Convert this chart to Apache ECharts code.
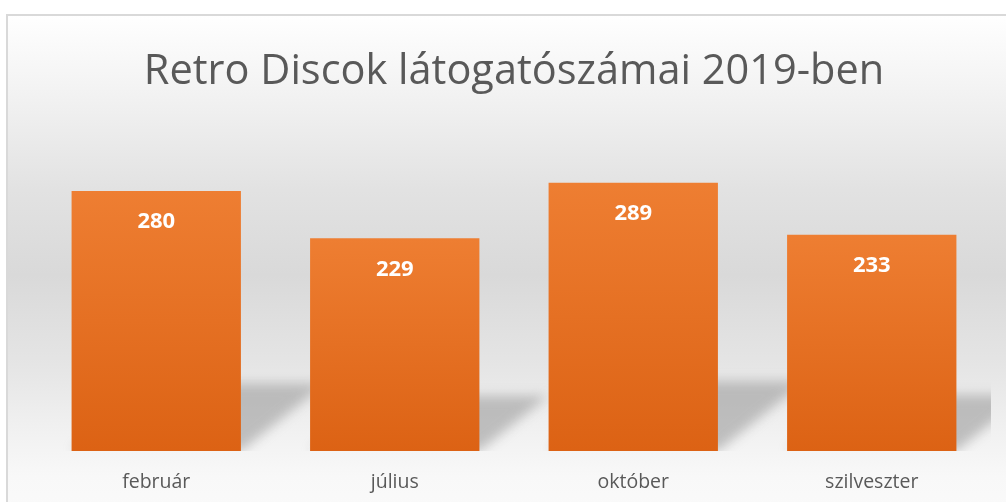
<!DOCTYPE html>
<html>
<head>
<meta charset="utf-8">
<script src="https://cdn.jsdelivr.net/npm/echarts@6/dist/echarts.min.js"></script>
<style>
  html, body { margin: 0; padding: 0; background: #ffffff; }
  #chart { width: 1006px; height: 502px; }
</style>
</head>
<body>
<div id="chart"></div>
<script>
var months = ['február', 'július', 'október', 'szilveszter'];
var visitors = [280, 229, 289, 233];
var axisMax = 350;

(function() {
    var chart = echarts.init(document.getElementById('chart'), null, { renderer: 'canvas' });
    var barRatio = 0.71;
    var away = 3000; // draw the shape off-screen, keep only its blurred shadow

    // perspective shadow behind each bar (Excel style)
    function renderShadow(params, api) {
        var idx = api.value(0);
        var base = api.coord([idx, 0]);
        var top = api.coord([idx, api.value(1)]);
        var bw = api.size([1, 0])[0] * barRatio;
        var x0 = base[0] - bw / 2 + away, x1 = base[0] + bw / 2 + away;
        var h = (base[1] - top[1]) * 0.26;
        var dx = h * 1.25;
        return {
            type: 'polygon',
            shape: { points: [[x0, base[1]], [x1, base[1]], [x1 + dx, base[1] - h], [x0 + dx, base[1] - h]] },
            style: { fill: '#bdbdbd', shadowBlur: 12, shadowColor: 'rgba(155,155,155,0.6)', shadowOffsetX: -away }
        };
    }

    chart.setOption({
        animation: false,
        graphic: [{
            type: 'rect',
            z: -10,
            shape: { x: 7, y: 15, width: 1010, height: 500 },
            style: {
                stroke: '#d9d9d9',
                lineWidth: 2,
                fill: new echarts.graphic.LinearGradient(0, 0, 0, 1, [
                    { offset: 0, color: '#ffffff' },
                    { offset: 0.15, color: '#f3f3f3' },
                    { offset: 0.35, color: '#e2e2e2' },
                    { offset: 0.52, color: '#d9d9d9' },
                    { offset: 0.7, color: '#e5e5e5' },
                    { offset: 0.82, color: '#f0f0f0' },
                    { offset: 0.92, color: '#f8f8f8' },
                    { offset: 1, color: '#fafafa' }
                ])
            }
        }],
        title: {
            text: 'Retro Discok látogatószámai 2019-ben',
            left: 509,
            textAlign: 'center',
            top: 46,
            textStyle: { color: '#595959', fontSize: 41.5, fontWeight: 'normal', fontFamily: 'Open Sans' }
        },
        grid: { left: 37, right: 15, top: 126, bottom: 51 },
        xAxis: {
            type: 'category',
            data: months,
            axisLine: { show: false },
            axisTick: { show: false },
            axisLabel: { color: '#595959', fontSize: 19.5, fontFamily: 'Open Sans', margin: 21 }
        },
        yAxis: {
            type: 'value',
            min: 0,
            max: axisMax,
            show: false
        },
        series: [
            {
                type: 'custom',
                clip: true,
                z: 1,
                renderItem: renderShadow,
                data: visitors.map(function(v, i) { return [i, v]; })
            },
            {
                type: 'bar',
                z: 2,
                barWidth: (barRatio * 100) + '%',
                itemStyle: {
                    color: new echarts.graphic.LinearGradient(0, 0, 0, 1, [
                        { offset: 0, color: '#ee7e32' },
                        { offset: 1, color: '#dc6214' }
                    ])
                },
                label: {
                    show: true,
                    position: 'insideTop',
                    distance: 20,
                    color: '#ffffff',
                    fontSize: 22,
                    fontWeight: 'bold',
                    fontFamily: 'Open Sans'
                },
                data: visitors
            }
        ]
    });

    window.addEventListener('resize', function() { chart.resize(); });
})();
</script>
</body>
</html>
